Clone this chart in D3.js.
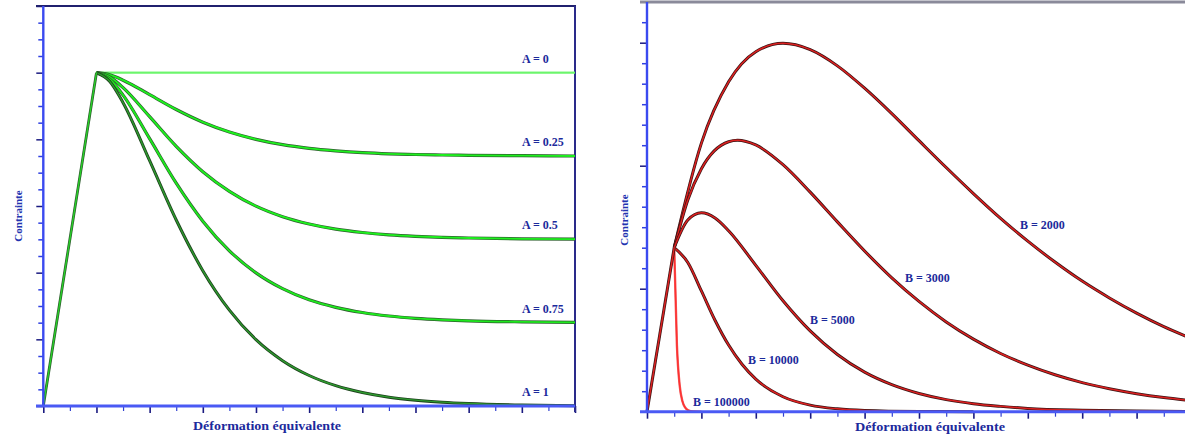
<!DOCTYPE html>
<html>
<head>
<meta charset="utf-8">
<script src="https://cdn.jsdelivr.net/npm/d3@7"></script>
<style>
body { margin: 0; background: #fff; }
svg { display: block; }
text { font-family: "Liberation Serif", "DejaVu Serif", serif; }
</style>
</head>
<body>
<div id="chart"></div>
<script>
// ---- left chart : parameter A (x in tick units, y in tick units)
var elasticA_x = [0, 2];
var elasticA_y = [0, 20];
var strainA = [2, 2.5, 3, 4, 5, 6, 7, 8, 9, 10, 11, 12, 13, 14, 15, 16, 18, 20];
var stressA0   = [20, 20, 20, 20, 20, 20, 20, 20, 20, 20, 20, 20, 20, 20, 20, 20, 20, 20];
var stressA025 = [20, 19.87, 19.55, 18.68, 17.79, 17.03, 16.44, 16.0, 15.68, 15.46, 15.31, 15.2, 15.13, 15.09, 15.06, 15.04, 15.02, 15.0];
var stressA05  = [20, 19.74, 19.1, 17.36, 15.58, 14.06, 12.88, 11.99, 11.36, 10.92, 10.61, 10.41, 10.27, 10.18, 10.12, 10.08, 10.03, 10.01];
var stressA075 = [20, 19.6, 18.65, 16.04, 13.37, 11.09, 9.31, 7.99, 7.04, 6.37, 5.92, 5.61, 5.4, 5.26, 5.17, 5.11, 5.05, 5.02];
var stressA1   = [20, 19.47, 18.2, 14.72, 11.16, 8.12, 5.75, 3.98, 2.72, 1.83, 1.22, 0.81, 0.53, 0.35, 0.23, 0.15, 0.06, 0.02];
var labelsA = ["A = 0", "A = 0.25", "A = 0.5", "A = 0.75", "A = 1"];

// ---- right chart : parameter B
var elasticB_x = [0, 1];
var elasticB_y = [0, 8];
var strainB2000 = [1, 2, 3, 4, 5, 6, 7, 8, 9, 10, 11, 12, 13, 14, 15, 16, 17, 18, 19, 20];
var stressB2000 = [8, 13.1, 16.09, 17.56, 17.97, 17.66, 16.87, 15.78, 14.54, 13.22, 11.91, 10.64, 9.43, 8.32, 7.3, 6.37, 5.55, 4.81, 4.15, 3.58];
var strainB3000 = [1, 1.5, 2, 3, 3.33, 4, 5, 6, 7, 8, 9, 10, 11, 12, 13, 14, 15, 16, 17, 18, 19, 20];
var stressB3000 = [8, 10.33, 11.85, 13.17, 13.24, 13.01, 12.05, 10.71, 9.26, 7.84, 6.53, 5.38, 4.38, 3.54, 2.84, 2.27, 1.8, 1.42, 1.12, 0.88, 0.69, 0.54];
var strainB5000 = [1, 1.5, 2, 2.5, 3, 4, 5, 6, 7, 8, 9, 10, 11, 12, 13, 14, 16, 18, 20];
var stressB5000 = [8, 9.35, 9.7, 9.45, 8.83, 7.14, 5.41, 3.94, 2.79, 1.93, 1.32, 0.89, 0.59, 0.39, 0.26, 0.16, 0.07, 0.03, 0.01];
var strainB10000 = [1, 1.5, 2, 2.5, 3, 3.5, 4, 5, 6, 7, 8, 10, 12];
var stressB10000 = [8, 7.28, 5.89, 4.46, 3.25, 2.3, 1.59, 0.73, 0.32, 0.14, 0.06, 0.01, 0];
var strainB100000 = [1, 1.1, 1.2, 1.3, 1.4, 1.5, 1.7, 2];
var stressB100000 = [8, 3.24, 1.3, 0.52, 0.21, 0.08, 0.01, 0];
var labelsB = ["B = 2000", "B = 3000", "B = 5000", "B = 10000", "B = 100000"];

var svg = d3.select("#chart").append("svg")
  .attr("width", 1185)
  .attr("height", 437);

function zip(xs, ys) {
  return xs.map(function(d, i) { return [d, ys[i]]; });
}

// draw one curve as a dark line with a coloured core (like the scan)
function curve(g, line, pts, under, over, wu, wo) {
  g.append("path").datum(pts)
    .attr("d", line).attr("fill", "none")
    .attr("stroke", under).attr("stroke-width", wu);
  g.append("path").datum(pts)
    .attr("d", line).attr("fill", "none")
    .attr("stroke", over).attr("stroke-width", wo);
}

function ticks(g, x, y, nx, ny, majX, majY) {
  var ax = g.append("g")
    .attr("transform", "translate(0," + y.range()[0] + ")")
    .call(d3.axisBottom(x).tickValues(d3.range(0, nx + 1)).tickSize(6).tickFormat(""));
  ax.select(".domain").remove();
  ax.selectAll("line")
    .attr("stroke", function(d) { return d % majX == 0 ? "#1a1a80" : "#3040d0"; })
    .attr("stroke-width", function(d) { return d % majX == 0 ? 1.6 : 1.2; })
    .attr("y2", function(d) { return d % majX == 0 ? 7 : 5; });

  var ay = g.append("g")
    .attr("transform", "translate(" + x.range()[0] + ",0)")
    .call(d3.axisLeft(y).tickValues(d3.range(0, ny + 1)).tickSize(6).tickFormat(""));
  ay.select(".domain").remove();
  ay.selectAll("line")
    .attr("stroke", function(d) { return d % majY == 0 ? "#1a1a80" : "#3040e0"; })
    .attr("stroke-width", 1.5)
    .attr("x2", function(d) { return d % majY == 0 ? -7 : -5; });
}

// ================= left chart =================
var xL = d3.scaleLinear().domain([0, 20]).range([43.3, 575]);
var yL = d3.scaleLinear().domain([0, 24]).range([406, 6]);
var lineL = d3.line().x(function(d) { return xL(d[0]); }).y(function(d) { return yL(d[1]); })
  .curve(d3.curveMonotoneX);
var gL = svg.append("g");

ticks(gL, xL, yL, 20, 24, 2, 4);

// frame
gL.append("line").attr("x1", 36).attr("x2", 576).attr("y1", 6).attr("y2", 6)
  .attr("stroke", "#20206e").attr("stroke-width", 2.2);
gL.append("line").attr("x1", 575).attr("x2", 575).attr("y1", 6).attr("y2", 412)
  .attr("stroke", "#2a2a8a").attr("stroke-width", 2);

curve(gL, lineL, zip(strainA, stressA0), "#6cf56c", "#6cf56c", 1.8, 1.8);
curve(gL, lineL, zip(strainA, stressA025), "#2e5e2e", "#1ef01e", 3.2, 1.9);
curve(gL, lineL, zip(strainA, stressA05), "#2e5e2e", "#1ef01e", 3.2, 1.9);
curve(gL, lineL, zip(strainA, stressA075), "#2e5e2e", "#1ee81e", 3.2, 1.9);
curve(gL, lineL, zip(strainA, stressA1), "#1c401c", "#2e9a2e", 3, 1.4);
curve(gL, lineL, zip(elasticA_x, elasticA_y), "#2c5a2c", "#28d028", 2.8, 1.4);

// axes lines
gL.append("line").attr("x1", 43.3).attr("x2", 43.3).attr("y1", 6).attr("y2", 407)
  .attr("stroke", "#3a4af0").attr("stroke-width", 2.4);
gL.append("line").attr("x1", 36).attr("x2", 575).attr("y1", 406).attr("y2", 406)
  .attr("stroke", "#4a5af4").attr("stroke-width", 3);

var levelsA = [20, 15, 10, 5, 0];
gL.selectAll(".lab").data(labelsA).enter().append("text")
  .attr("x", 522)
  .attr("y", function(d, i) { return yL(levelsA[i]) - 10; })
  .attr("font-size", 12)
  .attr("font-weight", "bold")
  .attr("fill", "#1c2a9c")
  .text(function(d) { return d; });

gL.append("text")
  .attr("transform", "translate(22,216) rotate(-90)")
  .attr("text-anchor", "middle")
  .attr("font-size", 11)
  .attr("font-weight", "bold")
  .attr("fill", "#2233b0")
  .text("Contrainte");
gL.append("text")
  .attr("x", 267).attr("y", 430)
  .attr("text-anchor", "middle")
  .attr("font-size", 12)
  .attr("font-weight", "bold")
  .attr("textLength", 148).attr("lengthAdjust", "spacingAndGlyphs")
  .attr("fill", "#1c2a9c")
  .text("Déformation équivalente");

// ================= right chart =================
var xR = d3.scaleLinear().domain([0, 20]).range([647, 1191]);
var yR = d3.scaleLinear().domain([0, 20]).range([411.7, 1.7]);
var lineR = d3.line().x(function(d) { return xR(d[0]); }).y(function(d) { return yR(d[1]); })
  .curve(d3.curveMonotoneX);
var gR = svg.append("g");

ticks(gR, xR, yR, 20, 20, 2, 6);

gR.append("line").attr("x1", 640).attr("x2", 1185).attr("y1", 2).attr("y2", 2)
  .attr("stroke", "#8a8a9a").attr("stroke-width", 3);

curve(gR, lineR, zip(strainB2000, stressB2000), "#3a1414", "#dc2020", 3, 1.5);
curve(gR, lineR, zip(strainB3000, stressB3000), "#3a1414", "#dc2020", 3, 1.5);
curve(gR, lineR, zip(strainB5000, stressB5000), "#3a1414", "#dc2020", 3, 1.5);
curve(gR, lineR, zip(strainB10000, stressB10000), "#3a1414", "#dc2020", 3, 1.5);
curve(gR, lineR, zip(strainB100000, stressB100000), "#f06060", "#ff3030", 2.4, 1.4);
curve(gR, lineR, zip(elasticB_x, elasticB_y), "#3a1414", "#dc2020", 3, 1.5);

gR.append("line").attr("x1", 647).attr("x2", 647).attr("y1", 2).attr("y2", 412)
  .attr("stroke", "#3a4af0").attr("stroke-width", 2.4);
gR.append("line").attr("x1", 640).attr("x2", 1185).attr("y1", 411.7).attr("y2", 411.7)
  .attr("stroke", "#4a5af4").attr("stroke-width", 3);

var labPosB = [[1020, 229], [905, 282], [810, 324], [748, 364], [693, 406]];
gR.selectAll(".lab").data(labelsB).enter().append("text")
  .attr("x", function(d, i) { return labPosB[i][0]; })
  .attr("y", function(d, i) { return labPosB[i][1]; })
  .attr("font-size", 12)
  .attr("font-weight", "bold")
  .attr("fill", "#1c2a9c")
  .text(function(d) { return d; });

gR.append("text")
  .attr("transform", "translate(628,220) rotate(-90)")
  .attr("text-anchor", "middle")
  .attr("font-size", 11)
  .attr("font-weight", "bold")
  .attr("fill", "#2233b0")
  .text("Contrainte");
gR.append("text")
  .attr("x", 930).attr("y", 431)
  .attr("text-anchor", "middle")
  .attr("font-size", 12)
  .attr("font-weight", "bold")
  .attr("textLength", 150).attr("lengthAdjust", "spacingAndGlyphs")
  .attr("fill", "#1c2a9c")
  .text("Déformation équivalente");
</script>
</body>
</html>
